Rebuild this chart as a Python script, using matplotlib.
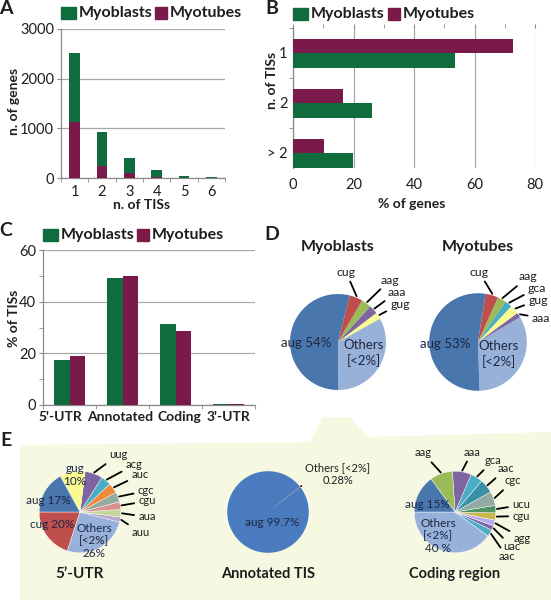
import numpy as np
import matplotlib
matplotlib.use("Agg")
import matplotlib.pyplot as plt
import matplotlib.transforms as mtransforms
from matplotlib.patches import Rectangle, Polygon
from matplotlib.ticker import FixedLocator

plt.rcParams['font.family'] = ['Lato', 'DejaVu Sans']

# ---------------- data ----------------
series_names = ["Myoblasts", "Myotubes"]

# Panel A
a_tis = [1, 2, 3, 4, 5, 6]
a_myoblasts = [2510, 932, 409, 161, 46, 26]
a_myotubes = [1133, 248, 95, 12, 5, 3]

# Panel B
b_categories = ["1", "2", "> 2"]
b_myoblasts = [53.7, 26.2, 19.9]
b_myotubes = [72.8, 16.6, 10.3]

# Panel C
c_categories = ["5'-UTR", "Annotated", "Coding", "3'-UTR"]
c_myoblasts = [17.4, 49.0, 31.4, 0.3]
c_myotubes = [19.1, 50.1, 28.8, 0.3]

# Panel D (pie order counter-clockwise from bottom)
d_myob_labels = ["Others", "gug", "aaa", "aag", "cug", "aug"]
d_myob_values = [33.0, 2.2, 3.0, 3.3, 4.5, 54.0]
d_myot_labels = ["Others", "aaa", "gug", "gca", "aag", "cug", "aug"]
d_myot_values = [33.0, 1.6, 3.0, 2.4, 2.8, 4.2, 53.0]

# Panel E
e_utr5_labels = ["cug", "Others", "auu", "aua", "cgu", "cgc", "auc", "acg", "uug", "gug", "aug"]
e_utr5_values = [20, 26, 2, 3, 3, 4, 4, 4, 7, 10, 17]
e_annot_labels = ["Others", "aug"]
e_annot_values = [0.28, 99.72]
e_coding_labels = ["Others", "aac", "uac", "agg", "cgu", "ucu", "cgc", "aac", "gca", "aaa", "aag", "aug"]
e_coding_values = [40.0, 2.7, 1.8, 2.3, 2.9, 2.9, 5.6, 5.5, 4.8, 7.5, 9.0, 15.0]

# ---------------- style ----------------
GREEN = "#0f6c3c"
PURPLE = "#7a1a4a"
GRID = "#a8a8a8"
SPINE = "#8a8a8a"
TXT = "#1e1e1e"
PIE_TXT = "#1c2742"

C_AUG = "#4a76ae"
C_OTH = "#98b1d8"
C_RED = "#bf4f4c"
C_GRN = "#9bbb59"
C_PUR = "#7f64a2"
C_YEL = "#fafa90"
C_TEAL = "#4bacc6"
C_DTEAL = "#3a8fa6"
C_ORG = "#f0883a"
C_GRAY = "#94aba2"
C_PINK = "#d9908f"
C_LGRN = "#c3d69b"
C_LAV = "#b4a6d2"
C_DGRN = "#4f9360"
C_OLV = "#c9b94a"
C_LAV2 = "#b7acf0"

W, H = 551, 600
fig = plt.figure(figsize=(W / 100, H / 100), dpi=100)


def rect(x0, y0, x1, y1):
    return [x0 / W, 1 - y1 / H, (x1 - x0) / W, (y1 - y0) / H]


# background layer
bg = fig.add_axes([0, 0, 1, 1], zorder=-5)
bg.set_xlim(0, W); bg.set_ylim(H, 0); bg.axis("off")
bg.add_patch(Polygon([(20, 445), (310, 442), (323, 417), (350, 417), (368, 437),
                      (551, 432), (551, 600), (20, 600)], closed=True,
                     facecolor="#f7f8e2", edgecolor="none"))

# overlay layer
ov = fig.add_axes([0, 0, 1, 1], zorder=20)
ov.set_xlim(0, W); ov.set_ylim(H, 0); ov.axis("off")
ov.patch.set_alpha(0)


def T(x, y, s, size=10, bold=False, ha="center", va="center", rot=0, color=TXT, ls=1.0):
    ov.text(x, y, s, fontsize=size, fontweight="bold" if bold else "normal",
            ha=ha, va=va, rotation=rot, color=color, linespacing=ls)


def legend(x, y, xs2, sq=(15, 12)):
    # x: left of green square; xs2: left of purple square
    ov.add_patch(Rectangle((x, y - sq[1] / 2), sq[0], sq[1], color=GREEN))
    T(x + sq[0] + 3, y, series_names[0], size=11.5, bold=True, ha="left")
    ov.add_patch(Rectangle((xs2, y - sq[1] / 2), sq[1], sq[1], color=PURPLE))
    T(xs2 + sq[1] + 3, y, series_names[1], size=11.5, bold=True, ha="left")


def style_axes(ax):
    for s in ["top", "right"]:
        ax.spines[s].set_visible(False)
    for s in ["left", "bottom"]:
        ax.spines[s].set_color(SPINE)
        ax.spines[s].set_linewidth(0.9)
    ax.set_facecolor("none")
    ax.tick_params(colors=TXT, labelsize=10.5, which="both")
    ax.tick_params(which="both", color=SPINE)


# ---------------- Panel A ----------------
axA = fig.add_axes(rect(61, 29, 225, 178))
style_axes(axA)
axA.bar(a_tis, a_myoblasts, width=0.4, color=GREEN, zorder=2)
axA.bar(a_tis, a_myotubes, width=0.4, color=PURPLE, zorder=3)
axA.set_xlim(0.5, 6.5)
axA.set_ylim(0, 3000)
axA.set_yticks([0, 1000, 2000, 3000])
axA.set_xticks(a_tis)
axA.xaxis.set_minor_locator(FixedLocator(np.arange(0.5, 7, 1)))
axA.tick_params(axis="x", which="major", length=0, pad=5)
axA.tick_params(axis="x", which="minor", length=3)
axA.tick_params(axis="y", which="major", length=3, pad=2)
axA.yaxis.grid(True, color=GRID, lw=0.9, zorder=0)
axA.set_axisbelow(True)
legend(61, 13, 155)
T(6, 8, "A", size=14, bold=True)
T(14, 101, "n. of genes", size=10, bold=True, rot=90)
T(142, 205, "n. of TISs", size=10, bold=True)

# ---------------- Panel B ----------------
axB = fig.add_axes(rect(293, 28, 535, 168))
style_axes(axB)
axB.spines["bottom"].set_visible(False)
yb = np.arange(len(b_categories))
axB.barh(yb - 0.15, b_myotubes, height=0.28, color=PURPLE, zorder=3)
axB.barh(yb + 0.15, b_myoblasts, height=0.29, color=GREEN, zorder=3)
axB.set_xlim(0, 80)
axB.set_ylim(2.3, -0.5)
axB.set_yticks(yb)
axB.set_yticklabels(b_categories)
axB.yaxis.set_minor_locator(FixedLocator([-0.5, 0.5, 1.5]))
axB.tick_params(axis="y", which="major", length=0, pad=4)
axB.tick_params(axis="y", which="minor", length=3)
axB.set_xticks([0, 20, 40, 60, 80])
axB.xaxis.set_minor_locator(FixedLocator([10, 30, 50, 70]))
axB.tick_params(axis="x", which="both", bottom=False, top=True, length=3, direction="out")
axB.tick_params(axis="x", which="major", labelbottom=True, pad=4)
axB.xaxis.grid(True, color=GRID, lw=0.9, zorder=0)
axB.set_axisbelow(True)
legend(293, 14, 388)
T(272, 8, "B", size=14, bold=True)
T(272, 80, "n. of TISs", size=10, bold=True, rot=90)
T(412, 204, "% of genes", size=10, bold=True)

# ---------------- Panel C ----------------
axC = fig.add_axes(rect(43, 250, 255, 405))
style_axes(axC)
xc = np.arange(len(c_categories))
axC.bar(xc - 0.145, c_myoblasts, width=0.29, color=GREEN, zorder=3)
axC.bar(xc + 0.145, c_myotubes, width=0.29, color=PURPLE, zorder=3)
axC.set_xlim(-0.5, 3.5)
axC.set_ylim(0, 60)
axC.set_yticks([0, 20, 40, 60])
axC.yaxis.set_minor_locator(FixedLocator([10, 30, 50]))
axC.tick_params(axis="y", which="both", length=3, pad=2)
axC.set_xticks(xc)
axC.set_xticklabels(c_categories, fontweight="bold", fontsize=10)
axC.xaxis.set_minor_locator(FixedLocator(np.arange(-0.5, 4, 1)))
axC.tick_params(axis="x", which="major", length=0, pad=4)
axC.tick_params(axis="x", which="minor", length=3)
axC.yaxis.grid(True, color=GRID, lw=0.9, zorder=0)
axC.set_axisbelow(True)
for lab, dx in zip(axC.get_xticklabels(), [-9, -2, 4, 0]):
    lab.set_transform(lab.get_transform() +
                      mtransforms.ScaledTranslation(dx / 100, 0, fig.dpi_scale_trans))
legend(43, 235, 137)
T(6, 231, "C", size=14, bold=True)
T(14, 318, "% of TISs", size=10, bold=True, rot=90)


# ---------------- pies ----------------
def pie_axes(cx, cy, r):
    ax = fig.add_axes(rect(cx - r, cy - r, cx + r, cy + r), zorder=2)
    ax.set_xlim(-1, 1); ax.set_ylim(-1, 1)
    ax.set_aspect("equal")
    ax.axis("off")
    return ax


def draw_pie(ax, values, colors, start, lw=0.0):
    wedges, _ = ax.pie(values, colors=colors, startangle=start, counterclock=True,
                       radius=1.0, wedgeprops=dict(linewidth=lw, edgecolor="white"))
    return wedges


def leader(ax, wedge, label, tx, ty, size=8.5, rad=1.03):
    ang = np.deg2rad((wedge.theta1 + wedge.theta2) / 2)
    ax.annotate(label, xy=(rad * np.cos(ang), rad * np.sin(ang)), xycoords="data",
                xytext=(tx, ty), textcoords=ov.transData, fontsize=size,
                ha="center", va="center", color=TXT,
                arrowprops=dict(arrowstyle="-", color="black", lw=1.3,
                                shrinkA=1, shrinkB=0), annotation_clip=False)


# Panel D
T(272, 234, "D", size=14, bold=True)
T(338, 247, "Myoblasts", size=11.5, bold=True)
T(478, 247, "Myotubes", size=11.5, bold=True)

axD1 = pie_axes(338, 342, 60)
w = draw_pie(axD1, d_myob_values, [C_OTH, C_YEL, C_PUR, C_GRN, C_RED, C_AUG], -89.6)
leader(axD1, w[4], "cug", 346, 272, size=8.8)
leader(axD1, w[3], "aag", 390, 280, size=8.8)
leader(axD1, w[2], "aaa", 397, 292, size=8.8)
leader(axD1, w[1], "gug", 400, 304, size=8.8)
T(306, 343, "aug 54%", size=9.5, color=PIE_TXT)
T(364, 353, "Others\n[<2%]", size=9.5, color=PIE_TXT, ls=1.3)

axD2 = pie_axes(478, 342, 61)
w = draw_pie(axD2, d_myot_values, [C_OTH, C_PUR, C_YEL, C_TEAL, C_GRN, C_RED, C_AUG], -88.2)
leader(axD2, w[5], "cug", 479, 272, size=8.8)
leader(axD2, w[4], "aag", 528, 277, size=8.8)
leader(axD2, w[3], "gca", 537, 288, size=8.8)
leader(axD2, w[2], "gug", 538, 300, size=8.8)
leader(axD2, w[1], "aaa", 541, 318, size=8.8)
T(445, 344, "aug 53%", size=9.5, color=PIE_TXT)
T(499, 354, "Others\n[<2%]", size=9.5, color=PIE_TXT, ls=1.3)

# Panel E
T(6, 440, "E", size=14, bold=True)

axE1 = pie_axes(80, 512, 51)
w = draw_pie(axE1, e_utr5_values,
             [C_RED, C_OTH, C_LAV, C_LGRN, C_PINK, C_GRAY, C_ORG, C_TEAL, C_PUR, C_YEL, C_AUG],
             180, lw=0.3)
leader(axE1, w[8], "uug", 118, 455, size=8)
leader(axE1, w[7], "acg", 134, 465, size=8)
leader(axE1, w[6], "auc", 140, 475, size=8)
leader(axE1, w[5], "cgc", 146, 491, size=8)
leader(axE1, w[4], "cgu", 147, 501, size=8)
leader(axE1, w[3], "aua", 147, 517, size=8)
leader(axE1, w[2], "auu", 141, 533, size=8)
T(75, 475, "gug\n10%", size=8.5, color=PIE_TXT, ls=1.2)
T(48, 500, "aug 17%", size=8.5, color=PIE_TXT)
T(52, 524, "cug 20%", size=8.5, color=PIE_TXT)
T(94, 541, "Others\n[<2%]\n26%", size=8.5, color=PIE_TXT, ls=1.2)
T(80, 574, "5’-UTR", size=11, bold=True)

axE2 = pie_axes(268, 512, 51)
w = draw_pie(axE2, e_annot_values, ["#b0586a", "#4a7bbf"], 37.5)
leader(axE2, w[0], "Others [<2%]\n0.28%", 338, 474, size=8)
T(272, 522, "aug 99.7%", size=8.5, color=PIE_TXT)
T(268, 574, "Annotated TIS", size=10.5, bold=True)

axE3 = pie_axes(455, 512, 51)
w = draw_pie(axE3, e_coding_values,
             [C_OTH, C_TEAL, C_PUR, C_LAV2, C_OLV, C_DGRN, C_GRAY, C_DTEAL, C_TEAL, C_PUR, C_GRN, C_AUG],
             180, lw=0.3)
leader(axE3, w[10], "aag", 423, 453, size=8)
leader(axE3, w[9], "aaa", 472, 452, size=8)
leader(axE3, w[8], "gca", 493, 461, size=8)
leader(axE3, w[7], "aac", 506, 469, size=8)
leader(axE3, w[6], "cgc", 513, 481, size=8)
leader(axE3, w[5], "ucu", 521, 505, size=8)
leader(axE3, w[4], "cgu", 521, 516, size=8)
leader(axE3, w[3], "agg", 522, 538, size=8)
leader(axE3, w[2], "uac", 512, 547, size=8)
leader(axE3, w[1], "aac", 507, 557, size=8)
T(427, 504, "aug 15%", size=8.5, color=PIE_TXT)
T(438, 536, "Others\n[<2%]\n40 %", size=8.5, color=PIE_TXT, ls=1.2)
T(455, 574, "Coding region", size=10.5, bold=True)

fig.savefig("out.png", dpi=100)
